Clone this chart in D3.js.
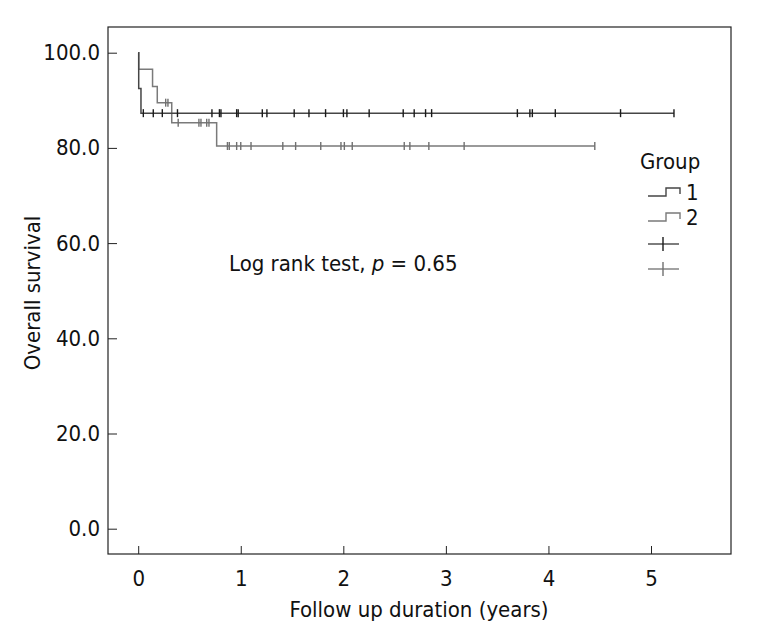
<!DOCTYPE html>
<html>
<head>
<meta charset="utf-8">
<script src="https://cdn.jsdelivr.net/npm/d3@7"></script>
<style>
  body { margin: 0; background: #fff; }
  text { font-family: "DejaVu Sans Condensed", "DejaVu Sans", sans-serif; fill: #111; }
</style>
</head>
<body>
<svg id="km_chart"></svg>
<script>
let width = 758
let height = 644
let frame = {left: 108, right: 731, top: 27, bottom: 554}
let fontSize = 22

// survival step data (time in years, survival %)
let group1Times = [0, 0.005, 0.027]
let group1Surv = [100, 92.5, 87.3]
let group1End = 5.224
let group1Censor = [0.05, 0.147, 0.235, 0.383, 0.719, 0.792, 0.807, 0.96, 0.975, 1.21, 1.255,
    1.521, 1.665, 1.827, 2.001, 2.035, 2.252, 2.584, 2.691, 2.802, 2.861, 3.697, 3.819,
    3.843, 4.067, 4.703, 5.224]

let group2Times = [0, 0.005, 0.14, 0.186, 0.327, 0.765]
let group2Surv = [100, 96.5, 92.9, 89.5, 85.3, 80.4]
let group2End = 4.452
let group2Censor = [0.268, 0.29, 0.39, 0.592, 0.612, 0.668, 0.69, 0.87, 0.888, 0.96, 1.0, 1.10,
    1.41, 1.535, 1.78, 1.977, 2.01, 2.087, 2.594, 2.649, 2.834, 3.178, 4.452]

let xTicks = [0, 1, 2, 3, 4, 5]
let yTicks = [0, 20, 40, 60, 80, 100]
let groupNames = ["1", "2"]

let xScale = d3.scaleLinear().domain([0, 5]).range([138.2, 651])
let yScale = d3.scaleLinear().domain([0, 100]).range([528.7, 52.7])

let svg = d3.select("#km_chart")
    .attr("width", width)
    .attr("height", height)

// frame
svg.append("rect")
    .attr("x", frame.left)
    .attr("y", frame.top)
    .attr("width", frame.right - frame.left)
    .attr("height", frame.bottom - frame.top)
    .attr("fill", "none")
    .attr("stroke", "#222")
    .attr("stroke-width", 1.2)

// y axis, ticks inward
svg.append("g")
    .attr("id", "y_axis")
    .attr("transform", "translate(" + frame.left + ",0)")
    .call(d3.axisRight(yScale).tickValues(yTicks).tickSize(9).tickFormat(d3.format(".1f")))
    .call(g => g.select(".domain").remove())
    .call(g => g.selectAll("line").attr("stroke", "#222"))
    .call(g => g.selectAll("text")
        .attr("x", -8)
        .attr("text-anchor", "end")
        .attr("font-size", fontSize)
        .attr("font-family", null)
        .attr("fill", "#111"))

// x axis, ticks inward
svg.append("g")
    .attr("id", "x_axis")
    .attr("transform", "translate(0," + frame.bottom + ")")
    .call(d3.axisTop(xScale).tickValues(xTicks).tickSize(8).tickFormat(d3.format("d")))
    .call(g => g.select(".domain").remove())
    .call(g => g.selectAll("line").attr("stroke", "#222"))
    .call(g => g.selectAll("text")
        .attr("y", 32)
        .attr("dy", null)
        .attr("font-size", fontSize)
        .attr("font-family", null)
        .attr("fill", "#111"))

svg.append("text")
    .text("Overall survival")
    .attr("font-size", fontSize)
    .attr("text-anchor", "middle")
    .attr("transform", "translate(40,293) rotate(-90)")

svg.append("text")
    .text("Follow up duration (years)")
    .attr("font-size", fontSize)
    .attr("text-anchor", "middle")
    .attr("x", 419)
    .attr("y", 617)

let note = svg.append("text")
    .attr("font-size", fontSize)
    .attr("x", 229)
    .attr("y", 271)
note.append("tspan").text("Log rank test, ")
note.append("tspan").text("p").attr("font-style", "italic")
note.append("tspan").text(" = 0.65")

function survAt(times, surv, t) {
    let i = d3.bisectRight(times, t) - 1
    return surv[Math.max(i, 0)]
}

let line = d3.line()
    .x(d => xScale(d[0]))
    .y(d => yScale(d[1]))
    .curve(d3.curveStepAfter)

let groups = [
    {times: group1Times, surv: group1Surv, end: group1End, censor: group1Censor, line: "#454545", mark: "#1a1a1a"},
    {times: group2Times, surv: group2Surv, end: group2End, censor: group2Censor, line: "#7a7a7a", mark: "#707070"}
]

let plot = svg.append("g").attr("id", "km_plot")

groups.slice().reverse().forEach(g => {
    let pts = g.times.map((t, i) => [t, g.surv[i]])
    pts.push([g.end, g.surv[g.surv.length - 1]])

    plot.append("path")
        .datum(pts)
        .attr("d", line)
        .attr("fill", "none")
        .attr("stroke", g.line)
        .attr("stroke-width", 1.5)

    plot.append("g")
        .selectAll("line")
        .data(g.censor)
        .enter()
        .append("line")
        .attr("x1", d => xScale(d))
        .attr("x2", d => xScale(d))
        .attr("y1", d => yScale(survAt(g.times, g.surv, d)) - 4)
        .attr("y2", d => yScale(survAt(g.times, g.surv, d)) + 4)
        .attr("stroke", g.mark)
        .attr("stroke-width", 1.4)
})

// legend
let legend = svg.append("g").attr("id", "legend")

legend.append("text")
    .text("Group")
    .attr("font-size", fontSize)
    .attr("x", 640)
    .attr("y", 169)

groups.forEach((g, i) => {
    let y = 192 + i * 25
    legend.append("path")
        .attr("d", "M648," + (y + 4) + "H666V" + (y - 4) + "H680V" + (y + 2))
        .attr("fill", "none")
        .attr("stroke", g.line)
        .attr("stroke-width", 1.4)
    legend.append("text")
        .text(groupNames[i])
        .attr("font-size", fontSize)
        .attr("x", 686)
        .attr("y", y + 8)

    let cy = 244 + i * 25
    legend.append("line")
        .attr("x1", 648).attr("x2", 679)
        .attr("y1", cy).attr("y2", cy)
        .attr("stroke", g.line)
        .attr("stroke-width", 1.4)
    legend.append("line")
        .attr("x1", 663).attr("x2", 663)
        .attr("y1", cy - 7).attr("y2", cy + 7)
        .attr("stroke", g.mark)
        .attr("stroke-width", 1.4)
})
</script>
</body>
</html>
